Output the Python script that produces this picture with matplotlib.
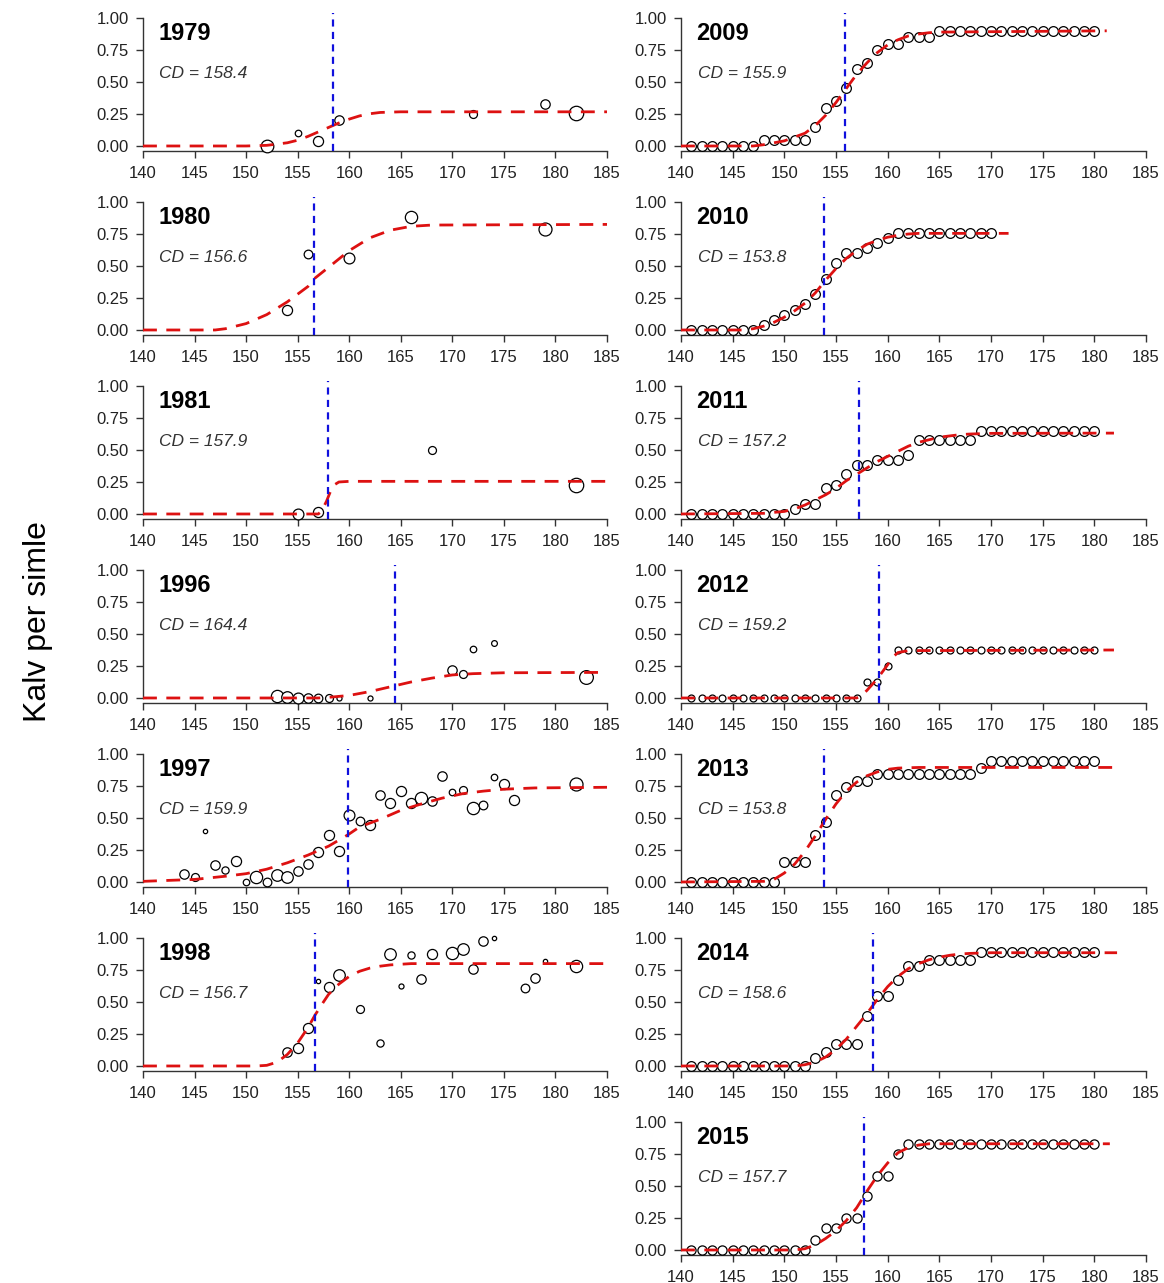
import matplotlib
matplotlib.use("Agg")
import matplotlib.pyplot as plt

plt.rcParams['font.family'] = ['Liberation Sans', 'DejaVu Sans']

# ---------------- data ----------------
years_left = ["1979", "1980", "1981", "1996", "1997", "1998"]
years_right = ["2009", "2010", "2011", "2012", "2013", "2014", "2015"]
cd_values = {"1979": 158.4, "1980": 156.6, "1981": 157.9, "1996": 164.4, "1997": 159.9,
             "1998": 156.7, "2009": 155.9, "2010": 153.8, "2011": 157.2, "2012": 159.2,
             "2013": 153.8, "2014": 158.6, "2015": 157.7}
x_ticks = [140, 145, 150, 155, 160, 165, 170, 175, 180, 185]
y_ticks = [0.00, 0.25, 0.50, 0.75, 1.00]

# observed points (x = day, y = calves per female, n = relative sample weight)
x_1979 = [152, 155, 157, 159, 172, 179, 182]
y_1979 = [0.00, 0.10, 0.04, 0.20, 0.25, 0.33, 0.26]
n_1979 = [35, 18, 28, 26, 22, 26, 40]
fx_1979 = [140, 150, 152, 154, 155, 156, 157, 158, 159, 160, 161, 162, 163, 165, 185]
fy_1979 = [0, 0, 0.005, 0.025, 0.045, 0.075, 0.11, 0.145, 0.18, 0.21, 0.235, 0.252, 0.262, 0.267, 0.267]

x_1980 = [154, 156, 160, 166, 179]
y_1980 = [0.16, 0.59, 0.56, 0.88, 0.79]
n_1980 = [28, 24, 30, 34, 36]
fx_1980 = [140, 147, 148, 150, 152, 154, 156, 156.6, 158, 160, 162, 164, 166, 168, 185]
fy_1980 = [0, 0, 0.01, 0.05, 0.12, 0.22, 0.34, 0.40, 0.49, 0.62, 0.72, 0.78, 0.81, 0.82, 0.825]

x_1981 = [155, 157, 168, 182]
y_1981 = [0.0, 0.015, 0.50, 0.23]
n_1981 = [30, 28, 22, 40]
fx_1981 = [140, 157, 157.3, 157.8, 158.2, 158.6, 159, 160, 185]
fy_1981 = [0, 0, 0.02, 0.10, 0.18, 0.23, 0.25, 0.255, 0.255]

x_1996 = [153, 154, 155, 156, 157, 158, 159, 162, 170, 171, 172, 174, 183]
y_1996 = [0.013, 0.005, 0, 0, 0, 0, 0, 0, 0.215, 0.19, 0.385, 0.43, 0.165]
n_1996 = [34, 32, 30, 26, 24, 22, 14, 14, 26, 22, 18, 16, 38]
fx_1996 = [140, 157, 158, 160, 162, 164.4, 166, 168, 170, 172, 175, 185]
fy_1996 = [0, 0, 0.005, 0.02, 0.05, 0.095, 0.125, 0.155, 0.18, 0.19, 0.197, 0.2]

x_1997 = [144, 145, 146, 147, 148, 149, 150, 151, 152, 153, 154, 155, 156, 157, 158, 159, 160,
          161, 162, 163, 164, 165, 166, 167, 168, 169, 170, 171, 172, 173, 174, 175, 176, 182]
y_1997 = [0.063, 0.037, 0.397, 0.13, 0.095, 0.163, 0.0, 0.042, 0.0, 0.058, 0.037, 0.084, 0.14,
          0.234, 0.368, 0.24, 0.526, 0.479, 0.442, 0.679, 0.621, 0.708, 0.62, 0.658, 0.63, 0.829,
          0.703, 0.716, 0.58, 0.6, 0.818, 0.768, 0.642, 0.768]
n_1997 = [26, 22, 12, 26, 20, 28, 18, 34, 24, 32, 32, 26, 26, 28, 28, 28, 30, 24, 28, 26, 28,
          28, 28, 34, 26, 26, 18, 22, 34, 24, 18, 28, 28, 36]
fx_1997 = [140, 145, 148, 150, 152, 154, 156, 158, 159.9, 161, 163, 165, 167, 169, 171, 173, 175, 178, 185]
fy_1997 = [0.005, 0.02, 0.045, 0.065, 0.1, 0.15, 0.21, 0.28, 0.37, 0.43, 0.49, 0.56, 0.61, 0.655,
           0.69, 0.71, 0.725, 0.735, 0.74]

x_1998 = [154, 155, 156, 157, 158, 159, 161, 163, 164, 165, 166, 167, 168, 170, 171, 172, 173,
          174, 177, 178, 179, 182]
y_1998 = [0.113, 0.14, 0.30, 0.666, 0.62, 0.713, 0.445, 0.176, 0.879, 0.626, 0.868, 0.679, 0.874,
          0.882, 0.913, 0.76, 0.976, 1.0, 0.613, 0.684, 0.82, 0.78]
n_1998 = [26, 28, 28, 12, 28, 32, 22, 20, 32, 14, 20, 26, 28, 34, 32, 26, 26, 12, 24, 26, 12, 34]
fx_1998 = [140, 151, 152, 153, 154, 155, 156, 156.7, 157.5, 158, 159, 160, 161, 162, 163, 164, 166, 185]
fy_1998 = [0, 0, 0.005, 0.03, 0.09, 0.18, 0.3, 0.4, 0.5, 0.56, 0.64, 0.7, 0.74, 0.765, 0.78, 0.79, 0.8, 0.8]

days_141_180 = [141, 142, 143, 144, 145, 146, 147, 148, 149, 150, 151, 152, 153, 154, 155, 156,
                157, 158, 159, 160, 161, 162, 163, 164, 165, 166, 167, 168, 169, 170, 171, 172,
                173, 174, 175, 176, 177, 178, 179, 180]
days_141_170 = [141, 142, 143, 144, 145, 146, 147, 148, 149, 150, 151, 152, 153, 154, 155, 156,
                157, 158, 159, 160, 161, 162, 163, 164, 165, 166, 167, 168, 169, 170]

y_2009 = [0, 0, 0, 0, 0, 0, 0, 0.05, 0.05, 0.05, 0.05, 0.05, 0.15, 0.30, 0.35, 0.45, 0.60, 0.65,
          0.75, 0.80, 0.80, 0.85, 0.85, 0.85, 0.90, 0.90, 0.90, 0.90, 0.90, 0.90, 0.90, 0.90,
          0.90, 0.90, 0.90, 0.90, 0.90, 0.90, 0.90, 0.90]
fx_2009 = [140, 147, 148, 150, 152, 153, 154, 155, 156, 157, 158, 159, 160, 161, 162, 163, 164, 165, 181.2]
fy_2009 = [0, 0, 0.01, 0.04, 0.1, 0.16, 0.24, 0.34, 0.45, 0.56, 0.65, 0.73, 0.79, 0.83, 0.86, 0.875,
           0.885, 0.89, 0.9]

y_2010 = [0, 0, 0, 0, 0, 0, 0, 0.04, 0.08, 0.12, 0.16, 0.20, 0.28, 0.40, 0.52, 0.60, 0.60, 0.64,
          0.68, 0.72, 0.76, 0.76, 0.76, 0.76, 0.76, 0.76, 0.76, 0.76, 0.76, 0.76]
fx_2010 = [140, 146, 147, 148, 149, 150, 151, 152, 153, 154, 155, 156, 157, 158, 159, 160, 161, 162, 163, 171.7]
fy_2010 = [0, 0, 0.01, 0.03, 0.06, 0.1, 0.15, 0.21, 0.29, 0.39, 0.48, 0.56, 0.62, 0.67, 0.7, 0.725,
           0.74, 0.75, 0.755, 0.755]

y_2011 = [0, 0, 0, 0, 0, 0, 0, 0, 0, 0, 0.04, 0.08, 0.08, 0.20, 0.23, 0.31, 0.38, 0.38, 0.42, 0.42,
          0.42, 0.46, 0.58, 0.58, 0.58, 0.58, 0.58, 0.58, 0.65, 0.65, 0.65, 0.65, 0.65, 0.65, 0.65,
          0.65, 0.65, 0.65, 0.65, 0.65]
fx_2011 = [140, 148, 150, 151, 152, 153, 154, 155, 156, 157, 158, 159, 160, 161, 162, 163, 164, 165,
           166, 167, 168, 170, 181.9]
fy_2011 = [0, 0.005, 0.02, 0.04, 0.07, 0.11, 0.15, 0.2, 0.26, 0.31, 0.36, 0.41, 0.45, 0.49, 0.53,
           0.56, 0.58, 0.6, 0.61, 0.62, 0.625, 0.63, 0.632]

y_2012 = [0, 0, 0, 0, 0, 0, 0, 0, 0, 0, 0, 0, 0, 0, 0, 0, 0, 0.125, 0.125, 0.25, 0.375, 0.375,
          0.375, 0.375, 0.375, 0.375, 0.375, 0.375, 0.375, 0.375, 0.375, 0.375, 0.375, 0.375,
          0.375, 0.375, 0.375, 0.375, 0.375, 0.375]
fx_2012 = [140, 157, 157.5, 158, 159, 160, 160.5, 161, 162, 181.9]
fy_2012 = [0, 0, 0.02, 0.06, 0.15, 0.26, 0.32, 0.355, 0.37, 0.375]

y_2013 = [0, 0, 0, 0, 0, 0, 0, 0, 0, 0.16, 0.16, 0.16, 0.37, 0.47, 0.68, 0.74, 0.79, 0.79, 0.84,
          0.84, 0.84, 0.84, 0.84, 0.84, 0.84, 0.84, 0.84, 0.84, 0.89, 0.947, 0.947, 0.947, 0.947,
          0.947, 0.947, 0.947, 0.947, 0.947, 0.947, 0.947]
fx_2013 = [140, 148, 149, 150, 151, 152, 153, 154, 155, 156, 157, 158, 159, 160, 161, 163, 182]
fy_2013 = [0, 0.005, 0.02, 0.07, 0.14, 0.24, 0.36, 0.49, 0.61, 0.71, 0.78, 0.83, 0.86, 0.88, 0.89,
           0.895, 0.895]

y_2014 = [0, 0, 0, 0, 0, 0, 0, 0, 0, 0, 0, 0, 0.06, 0.11, 0.17, 0.17, 0.17, 0.39, 0.55, 0.55, 0.67,
          0.78, 0.78, 0.83, 0.83, 0.83, 0.83, 0.83, 0.89, 0.89, 0.89, 0.89, 0.89, 0.89, 0.89, 0.89,
          0.89, 0.89, 0.89, 0.89]
fx_2014 = [140, 151, 152, 153, 154, 155, 156, 157, 158, 159, 160, 161, 162, 163, 164, 165, 166, 167,
           168, 170, 182.2]
fy_2014 = [0, 0, 0.01, 0.03, 0.07, 0.13, 0.21, 0.31, 0.41, 0.52, 0.62, 0.7, 0.76, 0.8, 0.83, 0.85,
           0.865, 0.875, 0.88, 0.885, 0.885]

y_2015 = [0, 0, 0, 0, 0, 0, 0, 0, 0, 0, 0, 0, 0.08, 0.17, 0.17, 0.25, 0.25, 0.42, 0.58, 0.58, 0.75,
          0.83, 0.83, 0.83, 0.83, 0.83, 0.83, 0.83, 0.83, 0.83, 0.83, 0.83, 0.83, 0.83, 0.83, 0.83,
          0.83, 0.83, 0.83, 0.83]
fx_2015 = [140, 151, 152, 153, 154, 155, 156, 157, 157.7, 158, 159, 160, 161, 162, 163, 164, 181.5]
fy_2015 = [0, 0, 0.01, 0.04, 0.09, 0.15, 0.23, 0.33, 0.42, 0.46, 0.58, 0.68, 0.76, 0.8, 0.82, 0.83, 0.83]

# panel assembly: (x, y, weights, fit_x, fit_y)
panels = {
    "1979": (x_1979, y_1979, n_1979, fx_1979, fy_1979),
    "1980": (x_1980, y_1980, n_1980, fx_1980, fy_1980),
    "1981": (x_1981, y_1981, n_1981, fx_1981, fy_1981),
    "1996": (x_1996, y_1996, n_1996, fx_1996, fy_1996),
    "1997": (x_1997, y_1997, n_1997, fx_1997, fy_1997),
    "1998": (x_1998, y_1998, n_1998, fx_1998, fy_1998),
    "2009": (days_141_180, y_2009, None, fx_2009, fy_2009),
    "2010": (days_141_170, y_2010, None, fx_2010, fy_2010),
    "2011": (days_141_180, y_2011, None, fx_2011, fy_2011),
    "2012": (days_141_180, y_2012, None, fx_2012, fy_2012),
    "2013": (days_141_180, y_2013, None, fx_2013, fy_2013),
    "2014": (days_141_180, y_2014, None, fx_2014, fy_2014),
    "2015": (days_141_180, y_2015, None, fx_2015, fy_2015),
}
uniform_marker = {"2009": 7.0, "2010": 7.0, "2011": 7.0, "2012": 5.0,
                  "2013": 7.0, "2014": 7.0, "2015": 6.6}

# ---------------- layout ----------------
W, H = 1164, 1283
fig = plt.figure(figsize=(W / 100, H / 100), dpi=100)

col_left_px = {0: (143, 464), 1: (681, 465)}
row_pitch = 184
ax_top0 = 12.9
ax_h = 138.2


def make_axes(col, row):
    lpx, wpx = col_left_px[col]
    top = ax_top0 + row * row_pitch
    return fig.add_axes([lpx / W, 1 - (top + ax_h) / H, wpx / W, ax_h / H])


def draw_panel(ax, year):
    xs, ys, ns, fx, fy = panels[year]
    if ns is not None:
        for xi, yi, ni in zip(xs, ys, ns):
            ax.plot(xi, yi, 'o', ms=ni * 0.26, mfc='white', mec='black', mew=0.9,
                    clip_on=False, zorder=3)
    else:
        ax.plot(xs, ys, 'o', ms=uniform_marker[year], mfc='white', mec='black', mew=0.9,
                ls='none', clip_on=False, zorder=3)
    ax.plot(fx, fy, color='#dd1111', lw=2.0, ls=(0, (5, 3.4)), zorder=4, clip_on=False)
    ax.axvline(cd_values[year], color='#1010dd', lw=1.6, ls=(0, (3.2, 2.4)), zorder=5)

    ax.set_xlim(140, 185)
    ax.set_ylim(-0.04, 1.04)
    ax.set_xticks(x_ticks)
    ax.set_yticks(y_ticks)
    ax.set_yticklabels([f"{v:.2f}" for v in y_ticks])
    for s in ("top", "right"):
        ax.spines[s].set_visible(False)
    ax.spines['left'].set_bounds(0, 1)
    ax.spines['bottom'].set_bounds(140, 185)
    for s in ("left", "bottom"):
        ax.spines[s].set_linewidth(1.0)
        ax.spines[s].set_color('#333333')
    ax.tick_params(direction='out', length=5, width=1.0, color='#333333',
                   labelsize=12, labelcolor='#222222')
    ax.tick_params(axis='x', pad=5.5)
    ax.tick_params(axis='y', pad=5)
    ax.patch.set_alpha(0)
    ax.text(141.5, 0.88, year, fontsize=17, fontweight='bold', ha='left', va='center',
            color='black')
    ax.text(141.6, 0.565, f"CD = {cd_values[year]}", fontsize=12.5, fontstyle='italic',
            ha='left', va='center', color='#333333')


for r, yr in enumerate(years_left):
    draw_panel(make_axes(0, r), yr)
for r, yr in enumerate(years_right):
    draw_panel(make_axes(1, r), yr)

fig.text(38 / W, 1 - 622 / H, "Kalv per simle", rotation=90, ha='center', va='center',
         fontsize=23, color='black')

fig.savefig("out.png", dpi=100)
